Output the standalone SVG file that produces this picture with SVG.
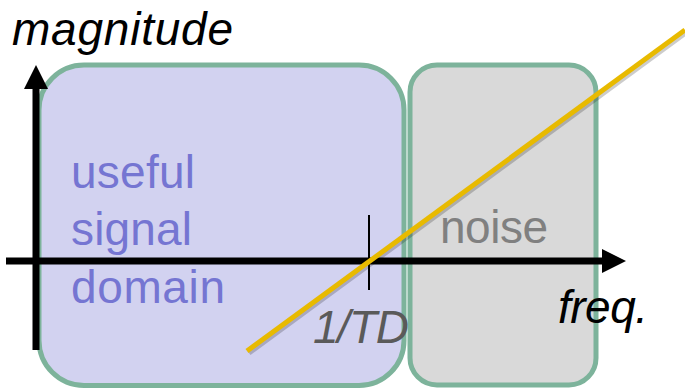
<svg xmlns="http://www.w3.org/2000/svg" width="685" height="389" viewBox="0 0 685 389">
<style>
.box{stroke:#7DB39B;stroke-width:5}
.lbl{font-family:"Liberation Sans",Arial,sans-serif}
.ax{font-family:"Liberation Sans",Arial,sans-serif;font-style:italic}
</style>
<rect width="685" height="389" fill="#ffffff"/>
<g id="useful-domain">
<rect class="box" x="39" y="65" width="365" height="320.5" rx="45" fill="#D2D2F0"/>
<text class="lbl" font-size="46" fill="#7575D2"><tspan x="71" y="188" textLength="124">useful</tspan><tspan x="71" y="245" textLength="121">signal</tspan><tspan x="71" y="303" textLength="154">domain</tspan></text>
</g>
<g id="noise">
<rect class="box" x="410" y="65" width="186" height="320" rx="27" fill="#D9D9D9"/>
<text class="lbl" x="440" y="243" font-size="46" fill="#808080" textLength="108">noise</text>
</g>
<g id="connectors">
<line x1="36" y1="350" x2="36" y2="86" stroke="#000" stroke-width="7"/>
<polygon points="24,89 48,89 36,65" fill="#000"/>
<line x1="6" y1="261" x2="605" y2="261" stroke="#000" stroke-width="7"/>
<polygon points="602,249 602,273 626,261" fill="#000"/>
<line x1="369" y1="215" x2="369" y2="290" stroke="#000" stroke-width="2"/>
<line x1="249" y1="353" x2="687" y2="32" stroke="#000" stroke-opacity="0.2" stroke-width="5"/>
<line x1="247" y1="351" x2="685" y2="30" stroke="#E8BA00" stroke-width="5"/>
</g>
<g id="labels">
<text class="ax" x="12" y="45" font-size="46" fill="#000" textLength="221">magnitude</text>
<text class="ax" x="313" y="343" font-size="46" fill="#5A5A5A" textLength="96">1/TD</text>
<text class="ax" x="558" y="323" font-size="46" fill="#000" textLength="90">freq.</text>
</g>
</svg>
